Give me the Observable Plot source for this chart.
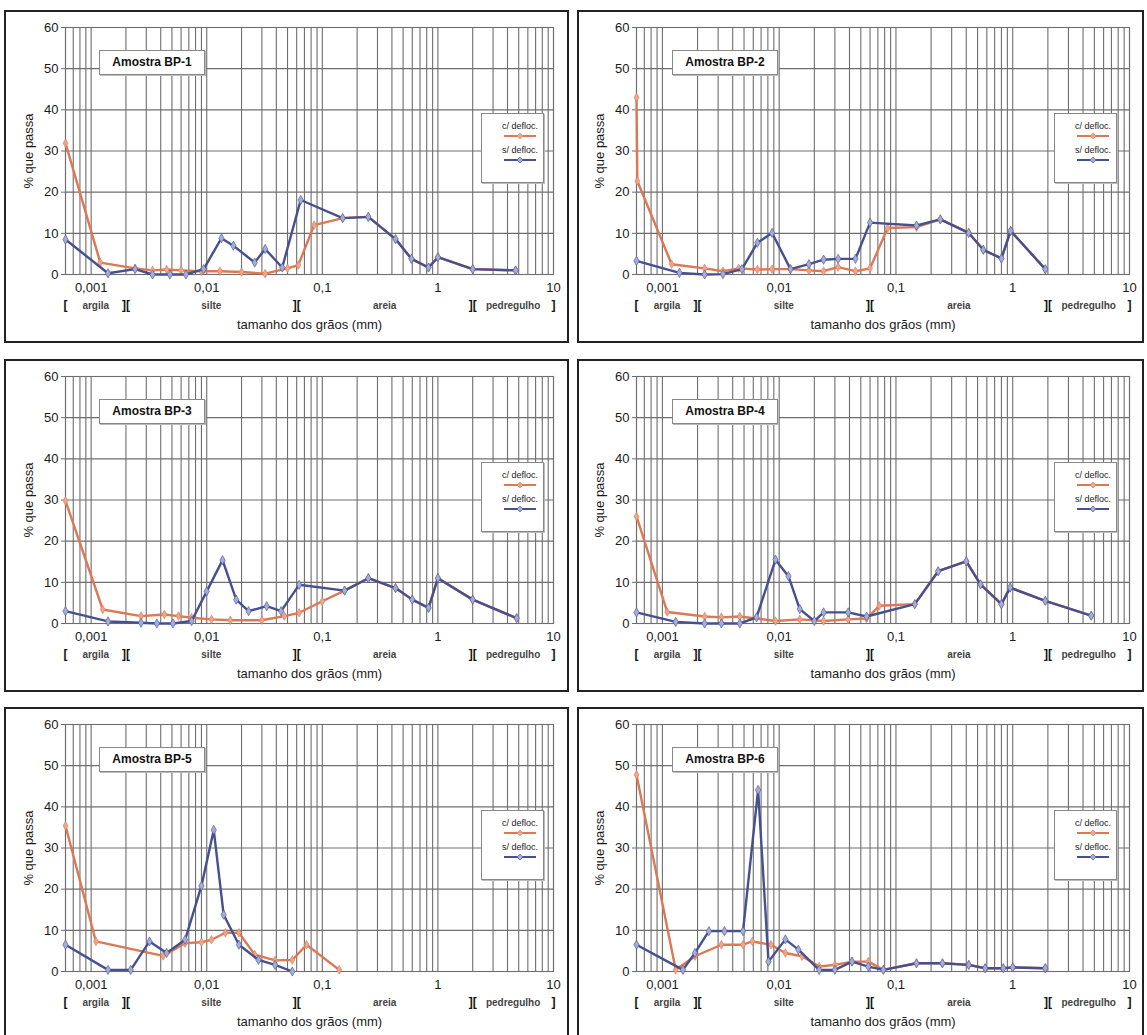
<!DOCTYPE html>
<html>
<head>
<meta charset="utf-8">
<script src="https://cdn.jsdelivr.net/npm/d3@7"></script>
<script src="https://cdn.jsdelivr.net/npm/@observablehq/plot@0.6"></script>
<style>
  html, body { margin: 0; padding: 0; background: #fff; width: 1147px; height: 1035px; overflow: hidden; }
  body { position: relative; font-family: "Liberation Sans", Arial, sans-serif; }
  .panel { position: absolute; box-sizing: border-box; border: 2px solid #222; background: #fff; }
  .panel svg { display: block; }
  .title { position: absolute; left: 93px; top: 38px; width: 106px; height: 25px; box-sizing: border-box;
           background: #fff; border: 1px solid #888; box-shadow: 1px 1px 0 #bbb;
           font: bold 12px "Liberation Sans", Arial, sans-serif; color: #111; line-height: 23px; text-align: center; }
  .legend { position: absolute; left: 475px; top: 101px; width: 63px; height: 70px; box-sizing: border-box;
            background: #fff; border: 1px solid #888; box-shadow: 1px 1px 0 #bbb;
            font: 9px "Liberation Sans", Arial, sans-serif; color: #222; text-align: right; padding: 6px 5px 0 3px; }
  .legend .lab { height: 12px; line-height: 12px; }
  .legend svg { display: block; margin: 0 0 4px auto; }
</style>
</head>
<body>
<script>
// ---- data: grain size (mm) and % passing ----
const bp1_sx = [0.0006, 0.0014, 0.0024, 0.0034, 0.0048, 0.0066, 0.0094, 0.0134, 0.017, 0.026, 0.032, 0.045, 0.065, 0.15, 0.25, 0.43, 0.59, 0.83, 1.0, 2.0, 4.7];
const bp1_s  = [8.5, 0.3, 1.3, 0, 0, 0, 1.3, 8.8, 7.0, 2.9, 6.2, 1.7, 18.1, 13.7, 14, 8.6, 3.8, 1.7, 4.2, 1.3, 1.0];
const bp1_cx = [0.0006, 0.0012, 0.0024, 0.0034, 0.0045, 0.006, 0.009, 0.013, 0.02, 0.032, 0.05, 0.062, 0.085, 0.15, 0.25, 0.43, 0.59, 0.83, 1.0, 2.0, 4.7];
const bp1_c  = [31.9, 2.9, 1.5, 1.0, 1.2, 1.0, 0.8, 0.8, 0.6, 0.2, 1.5, 2.3, 12.0, 13.7, 14, 8.6, 3.8, 1.7, 4.2, 1.3, 1.0];

const bp2_sx = [0.0006, 0.0014, 0.0023, 0.0033, 0.0048, 0.0065, 0.0087, 0.0125, 0.018, 0.024, 0.032, 0.045, 0.06, 0.15, 0.24, 0.42, 0.56, 0.8, 0.96, 1.9];
const bp2_s  = [3.3, 0.4, 0, 0.1, 1.3, 7.7, 10.1, 1.3, 2.5, 3.6, 3.8, 3.8, 12.6, 11.9, 13.4, 10.1, 6.0, 3.9, 10.6, 1.3];
const bp2_cx = [0.0006, 0.00061, 0.0012, 0.0023, 0.0033, 0.0045, 0.0065, 0.0087, 0.0125, 0.018, 0.024, 0.032, 0.045, 0.06, 0.085, 0.15, 0.24, 0.42, 0.56, 0.8, 0.96, 1.9];
const bp2_c  = [43, 22.7, 2.5, 1.5, 0.8, 1.5, 1.2, 1.3, 1.3, 1.0, 0.8, 1.8, 0.8, 1.5, 11.3, 11.5, 13.4, 10.1, 6.0, 3.9, 10.6, 1.3];

const bp3_sx = [0.0006, 0.0014, 0.0027, 0.0037, 0.0051, 0.0074, 0.01, 0.0137, 0.018, 0.023, 0.033, 0.044, 0.063, 0.156, 0.25, 0.43, 0.6, 0.83, 1.0, 2.0, 4.8];
const bp3_s  = [3.0, 0.5, 0.2, 0, 0, 0.6, 7.8, 15.4, 5.8, 3.0, 4.2, 3.0, 9.4, 8.0, 11, 8.6, 5.8, 3.8, 11, 5.8, 1.3];
const bp3_cx = [0.0006, 0.00126, 0.0027, 0.0043, 0.0057, 0.0074, 0.011, 0.016, 0.03, 0.047, 0.063, 0.1, 0.156, 0.25, 0.43, 0.6, 0.83, 1.0, 2.0, 4.8];
const bp3_c  = [29.8, 3.4, 1.8, 2.2, 1.8, 1.4, 1.0, 0.8, 0.8, 1.8, 2.6, 5.4, 8.0, 11, 8.6, 5.8, 3.8, 11, 5.8, 1.3];

const bp4_sx = [0.0006, 0.0013, 0.0023, 0.0032, 0.0046, 0.0064, 0.0093, 0.012, 0.015, 0.02, 0.024, 0.039, 0.056, 0.145, 0.23, 0.4, 0.53, 0.8, 0.95, 1.9, 4.7];
const bp4_s  = [2.7, 0.4, 0, 0, 0, 1.5, 15.5, 11.5, 3.5, 0.6, 2.7, 2.7, 1.7, 4.7, 12.7, 15.1, 9.5, 4.7, 8.7, 5.5, 1.9];
const bp4_cx = [0.0006, 0.0011, 0.0023, 0.0032, 0.0046, 0.0093, 0.015, 0.024, 0.039, 0.056, 0.072, 0.145, 0.23, 0.4, 0.53, 0.8, 0.95, 1.9, 4.7];
const bp4_c  = [26, 2.8, 1.7, 1.5, 1.7, 0.6, 1.0, 0.6, 1.0, 1.2, 4.3, 4.7, 12.7, 15.1, 9.5, 4.7, 8.7, 5.5, 1.9];

const bp5_sx = [0.0006, 0.0014, 0.0022, 0.0032, 0.0045, 0.0065, 0.009, 0.0115, 0.014, 0.019, 0.028, 0.039, 0.055];
const bp5_s  = [6.5, 0.4, 0.4, 7.3, 4.5, 7.7, 20.8, 34.4, 13.8, 6.5, 2.8, 1.6, 0];
const bp5_cx = [0.0006, 0.0011, 0.0042, 0.0065, 0.009, 0.011, 0.0145, 0.019, 0.026, 0.039, 0.055, 0.073, 0.14];
const bp5_c  = [35.4, 7.3, 3.8, 6.9, 7.1, 7.7, 9.4, 9.4, 4.1, 2.7, 2.8, 6.5, 0.4];

const bp6_sx = [0.0006, 0.0015, 0.0019, 0.0025, 0.0034, 0.0049, 0.0066, 0.0081, 0.0113, 0.0146, 0.022, 0.03, 0.042, 0.058, 0.078, 0.15, 0.25, 0.42, 0.58, 0.83, 1.0, 1.9];
const bp6_s  = [6.5, 0.4, 4.5, 9.8, 9.8, 9.8, 44.1, 2.4, 7.8, 5.3, 0.4, 0.4, 2.4, 1.2, 0.4, 2.0, 2.0, 1.6, 0.8, 0.8, 1.0, 0.8];
const bp6_cx = [0.0006, 0.0013, 0.0019, 0.0032, 0.0049, 0.0059, 0.0085, 0.0113, 0.0157, 0.022, 0.03, 0.042, 0.058, 0.078, 0.15, 0.25, 0.42, 0.58, 0.83, 1.0, 1.9];
const bp6_c  = [47.8, 0.4, 3.7, 6.5, 6.5, 7.3, 6.5, 4.5, 3.7, 1.2, 1.6, 2.4, 2.4, 0.4, 2.0, 2.0, 1.6, 0.8, 0.8, 1.0, 0.8];

const sampleNames = ["Amostra BP-1", "Amostra BP-2", "Amostra BP-3", "Amostra BP-4", "Amostra BP-5", "Amostra BP-6"];
const seriesNames = ["c/ defloc.", "s/ defloc."];
const xTickValues = [0.001, 0.01, 0.1, 1, 10];
const xTickLabels = ["0,001", "0,01", "0,1", "1", "10"];
const yTickValues = [0, 10, 20, 30, 40, 50, 60];
const classNames  = ["argila", "silte", "areia", "pedregulho"];
const classBounds = [0.0006, 0.002, 0.06, 2, 10];
const xLabel = "tamanho dos grãos (mm)";
const yLabel = "% que passa";

// ---- styles ----
const ORANGE = "#dc7854", ORANGE_PT = "#f0a488";
const BLUE = "#47508f", BLUE_PT = "#a4acd8";
const GRID = "#6e6e6e";

const samples = [
  [bp1_sx, bp1_s, bp1_cx, bp1_c], [bp2_sx, bp2_s, bp2_cx, bp2_c],
  [bp3_sx, bp3_s, bp3_cx, bp3_c], [bp4_sx, bp4_s, bp4_cx, bp4_c],
  [bp5_sx, bp5_s, bp5_cx, bp5_c], [bp6_sx, bp6_s, bp6_cx, bp6_c]
];

const domainX = [classBounds[0], classBounds[classBounds.length - 1]];
const gridX = [];
for (let e = -4; e <= 1; e++) for (let k = 1; k <= 9; k++) {
  const v = k * Math.pow(10, e);
  if (v >= domainX[0] * 0.999 && v <= domainX[1] * 1.001) gridX.push(v);
}
const brackets = classBounds.map((b, i) => ({x: b, t: i === 0 ? "[" : i === classBounds.length - 1 ? "]" : "]["}));
const classLabels = classNames.map((n, i) => ({x: Math.sqrt(classBounds[i] * classBounds[i + 1]), t: n}));

const panelLayout = [
  {left: 4, top: 10, w: 565, ml: 59, mr: 14}, {left: 577, top: 10, w: 567, ml: 57, mr: 13},
  {left: 4, top: 359, w: 565, ml: 59, mr: 14}, {left: 577, top: 359, w: 567, ml: 57, mr: 13},
  {left: 4, top: 707, w: 565, ml: 59, mr: 14}, {left: 577, top: 707, w: 567, ml: 57, mr: 13}
];
const PANEL_H = 333;

samples.forEach(([sx, s, cx, c], i) => {
  const L = panelLayout[i];
  const sData = sx.map((x, j) => ({x, y: s[j]}));
  const cData = cx.map((x, j) => ({x, y: c[j]}));
  const div = document.createElement("div");
  div.className = "panel";
  Object.assign(div.style, {left: L.left + "px", top: L.top + "px", width: L.w + "px", height: PANEL_H + "px"});
  const chart = Plot.plot({
    width: L.w - 4, height: PANEL_H - 4,
    marginTop: 15, marginBottom: 67, marginLeft: L.ml, marginRight: L.mr,
    style: {fontFamily: "'Liberation Sans', Arial, sans-serif", fontSize: "12px", color: "#1a1a1a", background: "transparent", overflow: "visible"},
    x: {type: "log", domain: domainX},
    y: {domain: [0, 60]},
    marks: [
      Plot.ruleX(gridX, {stroke: GRID, strokeWidth: 1.1}),
      Plot.ruleY(yTickValues, {stroke: GRID, strokeWidth: 1.1}),
      Plot.frame({stroke: GRID, strokeWidth: 1.1}),
      Plot.axisX(xTickValues, {tickSize: 0, tickPadding: 8, tickFormat: (d) => xTickLabels[xTickValues.indexOf(d)],
        fontSize: 13, label: xLabel, labelAnchor: "center", labelOffset: 54, labelArrow: false}),
      Plot.axisY(yTickValues, {tickSize: 4, tickPadding: 3, fontSize: 13, stroke: GRID,
        label: yLabel, labelAnchor: "center", labelOffset: 42, labelArrow: false}),
      Plot.text(brackets, {x: "x", text: "t", frameAnchor: "bottom", dy: 34, fontWeight: "bold", fontSize: 12, fill: "#111"}),
      Plot.text(classLabels, {x: "x", text: "t", frameAnchor: "bottom", dy: 34, fontSize: 10, fontWeight: "bold", fill: "#444"}),
      Plot.line(cData, {x: "x", y: "y", stroke: ORANGE, strokeWidth: 2.4}),
      Plot.dot(cData, {x: "x", y: "y", symbol: "diamond", r: 2.6, fill: ORANGE_PT, stroke: ORANGE, strokeWidth: 0.6}),
      Plot.line(sData, {x: "x", y: "y", stroke: BLUE, strokeWidth: 2.4}),
      Plot.dot(sData, {x: "x", y: "y", symbol: "diamond", r: 2.8, fill: BLUE_PT, stroke: BLUE, strokeWidth: 0.6})
    ]
  });
  div.appendChild(chart);
  const title = document.createElement("div");
  title.className = "title";
  title.textContent = sampleNames[i];
  div.appendChild(title);
  const leg = document.createElement("div");
  leg.className = "legend";
  const sw = (col, pt) => `<svg width="36" height="8"><line x1="2" y1="4" x2="34" y2="4" stroke="${col}" stroke-width="2"/><path d="M18,1 L21,4 L18,7 L15,4 Z" fill="${pt}" stroke="${col}" stroke-width="0.6"/></svg>`;
  leg.innerHTML = `<div class="lab">${seriesNames[0]}</div>${sw(ORANGE, ORANGE_PT)}<div class="lab">${seriesNames[1]}</div>${sw(BLUE, BLUE_PT)}`;
  div.appendChild(leg);
  document.body.appendChild(div);
});
</script>
</body>
</html>
